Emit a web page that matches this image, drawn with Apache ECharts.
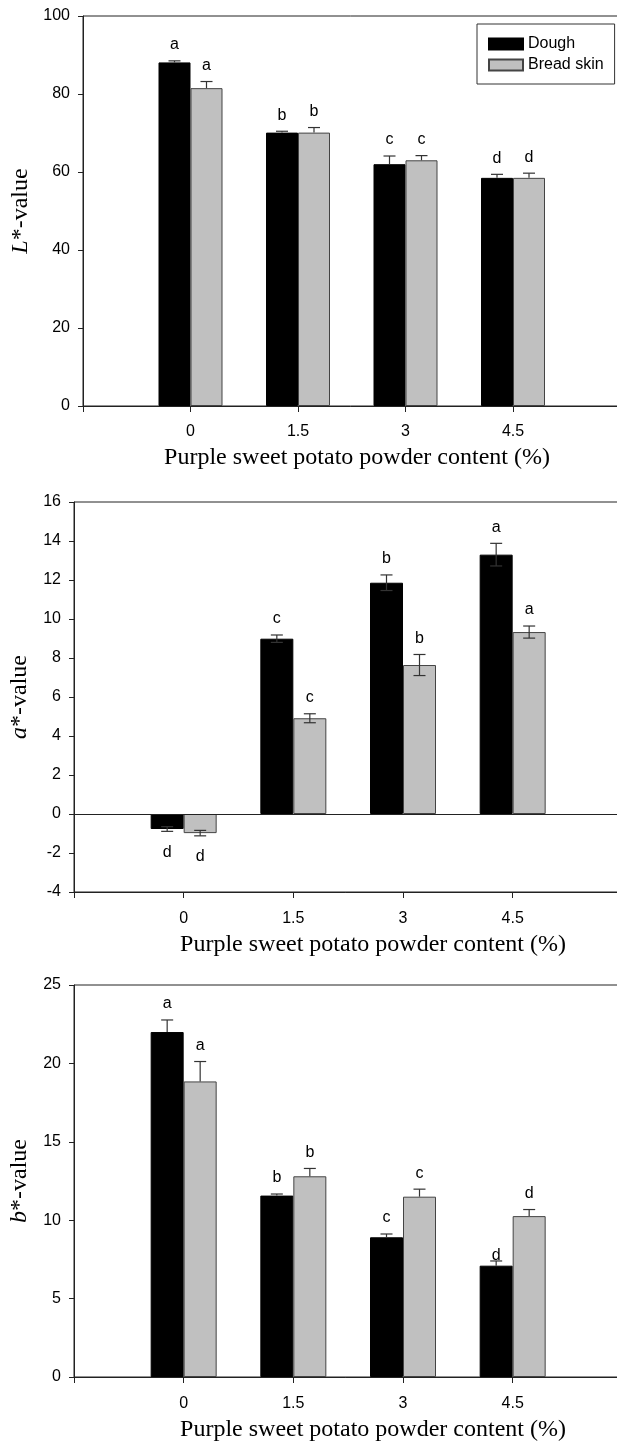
<!DOCTYPE html>
<html><head><meta charset="utf-8">
<script src="https://cdn.jsdelivr.net/npm/echarts@6/dist/echarts.min.js"></script>
<style>html,body{margin:0;padding:0;background:#fff}#c{width:617px;height:1443px}</style>
</head><body><div id="c"></div>
<script>
// categories along the x axis (first slot is the axis origin; trailing slots run off the page)
const categories = ['', '0', '1.5', '3', '4.5', '', ''];
const seriesNames = ['Dough', 'Bread skin'];

// L*-value
const L_dough = [88.1, 70.1, 62.0, 58.5];
const L_dough_err = [0.4, 0.35, 2.1, 0.9];
const L_dough_letters = ['a', 'b', 'c', 'd'];
const L_bread = [81.5, 70.1, 63.0, 58.5];
const L_bread_err = [1.7, 1.3, 1.2, 1.2];
const L_bread_letters = ['a', 'b', 'c', 'd'];

// a*-value
const A_dough = [-0.77, 8.99, 11.86, 13.3];
const A_dough_err = [0.12, 0.19, 0.4, 0.58];
const A_dough_letters = ['d', 'c', 'b', 'a'];
const A_bread = [-0.98, 4.91, 7.64, 9.33];
const A_bread_err = [0.14, 0.23, 0.54, 0.31];
const A_bread_letters = ['d', 'c', 'b', 'a'];

// b*-value
const B_dough = [22.0, 11.57, 8.91, 7.1];
const B_dough_err = [0.77, 0.1, 0.21, 0.3];
const B_dough_letters = ['a', 'b', 'c', 'd'];
const B_bread = [18.85, 12.8, 11.5, 10.26];
const B_bread_err = [1.27, 0.5, 0.48, 0.42];
const B_bread_letters = ['a', 'b', 'c', 'd'];

const SANS = 'Liberation Sans';
const SERIF = 'Liberation Serif';

const panels = [
  {grid:{left:83, top:16, width:645, height:390}, min:0, max:100, interval:20, nameGap:44, xMargin:18,
   yname:'{i|L}*-value', dough:L_dough, de:L_dough_err, dl:L_dough_letters, bread:L_bread, be:L_bread_err, bl:L_bread_letters,
   bw:32, upOnly:true, zeroLine:false, xtitle:{x:357, y:458}},
  {grid:{left:74, top:502, width:658, height:390}, min:-4, max:16, interval:2, nameGap:42, xMargin:19,
   yname:'{i|a}*-value', dough:A_dough, de:A_dough_err, dl:A_dough_letters, bread:A_bread, be:A_bread_err, bl:A_bread_letters,
   bw:33, upOnly:false, zeroLine:true, xtitle:{x:373, y:945}},
  {grid:{left:74, top:985, width:658, height:392}, min:0, max:25, interval:5, nameGap:42, xMargin:19,
   yname:'{i|b}*-value', dough:B_dough, de:B_dough_err, dl:B_dough_letters, bread:B_bread, be:B_bread_err, bl:B_bread_letters,
   bw:33, upOnly:true, zeroLine:false, xtitle:{x:373, y:1430}, nudge:{dough:{3:11}}}
];

const AX = '#222';
const grids = [], xAxes = [], yAxes = [], series = [], graphics = [];

function padData(vals){
  const d = categories.map(() => '-');
  vals.forEach((v, i) => { d[i + 1] = v; });
  return d;
}

function errSeries(gi, vals, errs, letters, side, bw, upOnly, nudge){
  return {
    type:'custom', xAxisIndex:gi, yAxisIndex:gi, z:5, silent:true,
    data: vals.map((v, i) => [i + 1, v, errs[i]]),
    encode:{x:0, y:1},
    renderItem(params, api){
      const idx = api.value(0), v = api.value(1), e = api.value(2);
      const base = api.coord([idx, v]);
      const x = base[0] + side * bw / 2;
      const neg = v < 0;
      const tip = api.coord([idx, neg ? v - e : v + e])[1];
      const other = upOnly ? base[1] : api.coord([idx, neg ? v + e : v - e])[1];
      const cap = 6;
      const ls = {stroke:'#333', lineWidth:1.2};
      const ch = [
        {type:'line', shape:{x1:x, y1:other, x2:x, y2:tip}, style:ls},
        {type:'line', shape:{x1:x - cap, y1:tip, x2:x + cap, y2:tip}, style:ls}
      ];
      if (!upOnly) ch.push({type:'line', shape:{x1:x - cap, y1:other, x2:x + cap, y2:other}, style:ls});
      const nd = (nudge && nudge[params.dataIndex]) || 0;
      ch.push({type:'text', x:x, y: neg ? tip + 13 : tip - 8 + nd,
        style:{text:letters[params.dataIndex], fill:'#000', font:'16px "' + SANS + '"',
               align:'center', verticalAlign: neg ? 'top' : 'bottom'}});
      return {type:'group', children:ch};
    }
  };
}

panels.forEach((p, gi) => {
  grids.push(Object.assign({show:true, borderColor:AX, borderWidth:1, backgroundColor:'transparent',
    outerBoundsMode:'none', containLabel:false}, p.grid));
  xAxes.push({
    type:'category', gridIndex:gi, data:categories, boundaryGap:false,
    axisLine:{onZero:false, lineStyle:{color:AX, width:1}},
    axisTick:{show:true, length:6, inside:false, lineStyle:{color:AX}},
    axisLabel:{color:'#000', fontFamily:SANS, fontSize:16, margin:p.xMargin, interval:0},
    splitLine:{show:false}
  });
  yAxes.push({
    type:'value', gridIndex:gi, min:p.min, max:p.max, interval:p.interval,
    name:p.yname, nameLocation:'middle', nameRotate:90, nameGap:p.nameGap,
    nameTextStyle:{fontFamily:SERIF, fontSize:24, color:'#000',
      rich:{i:{fontFamily:SERIF, fontSize:24, fontStyle:'italic', color:'#000'}}},
    axisLine:{show:true, lineStyle:{color:AX, width:1}},
    axisTick:{show:true, length:5, lineStyle:{color:AX}},
    axisLabel:{color:'#000', fontFamily:SANS, fontSize:16, margin:13},
    splitLine:{show:false}
  });
  const doughBar = {
    type:'bar', name:seriesNames[0], xAxisIndex:gi, yAxisIndex:gi, data:padData(p.dough),
    barWidth:p.bw, barGap:'0%', itemStyle:{color:'#000', borderColor:'#000', borderWidth:1}, z:2
  };
  if (p.zeroLine) {
    doughBar.markLine = {silent:true, symbol:'none', label:{show:false},
      lineStyle:{color:AX, width:1, type:'solid'}, data:[{yAxis:0}], animation:false};
  }
  series.push(doughBar);
  series.push({
    type:'bar', name:seriesNames[1], xAxisIndex:gi, yAxisIndex:gi, data:padData(p.bread),
    barWidth:p.bw, barGap:'0%', itemStyle:{color:'#c0c0c0', borderColor:'#444', borderWidth:1}, z:2
  });
  const nd = p.nudge || {};
  series.push(errSeries(gi, p.dough, p.de, p.dl, -1, p.bw, p.upOnly, nd.dough));
  series.push(errSeries(gi, p.bread, p.be, p.bl, 1, p.bw, p.upOnly, nd.bread));
  graphics.push({type:'text', x:p.xtitle.x, y:p.xtitle.y,
    style:{text:'Purple sweet potato powder content (%)', fill:'#000', font:'24px "' + SERIF + '"',
           textAlign:'center', textVerticalAlign:'middle', align:'center', verticalAlign:'middle'}});
});

const chart = echarts.init(document.getElementById('c'), null, {renderer:'canvas'});
chart.setOption({
  animation:false,
  backgroundColor:'#fff',
  grid:grids, xAxis:xAxes, yAxis:yAxes, series:series, graphic:graphics,
  legend:{data:seriesNames, orient:'vertical', left:477, top:24, padding:[12,11,11,11],
    itemWidth:34, itemHeight:11, itemGap:5, borderColor:'#333', borderWidth:1, borderRadius:0,
    selectedMode:false, icon:'rect',
    textStyle:{fontFamily:SANS, fontSize:16, color:'#000'}}
});
</script></body></html>
